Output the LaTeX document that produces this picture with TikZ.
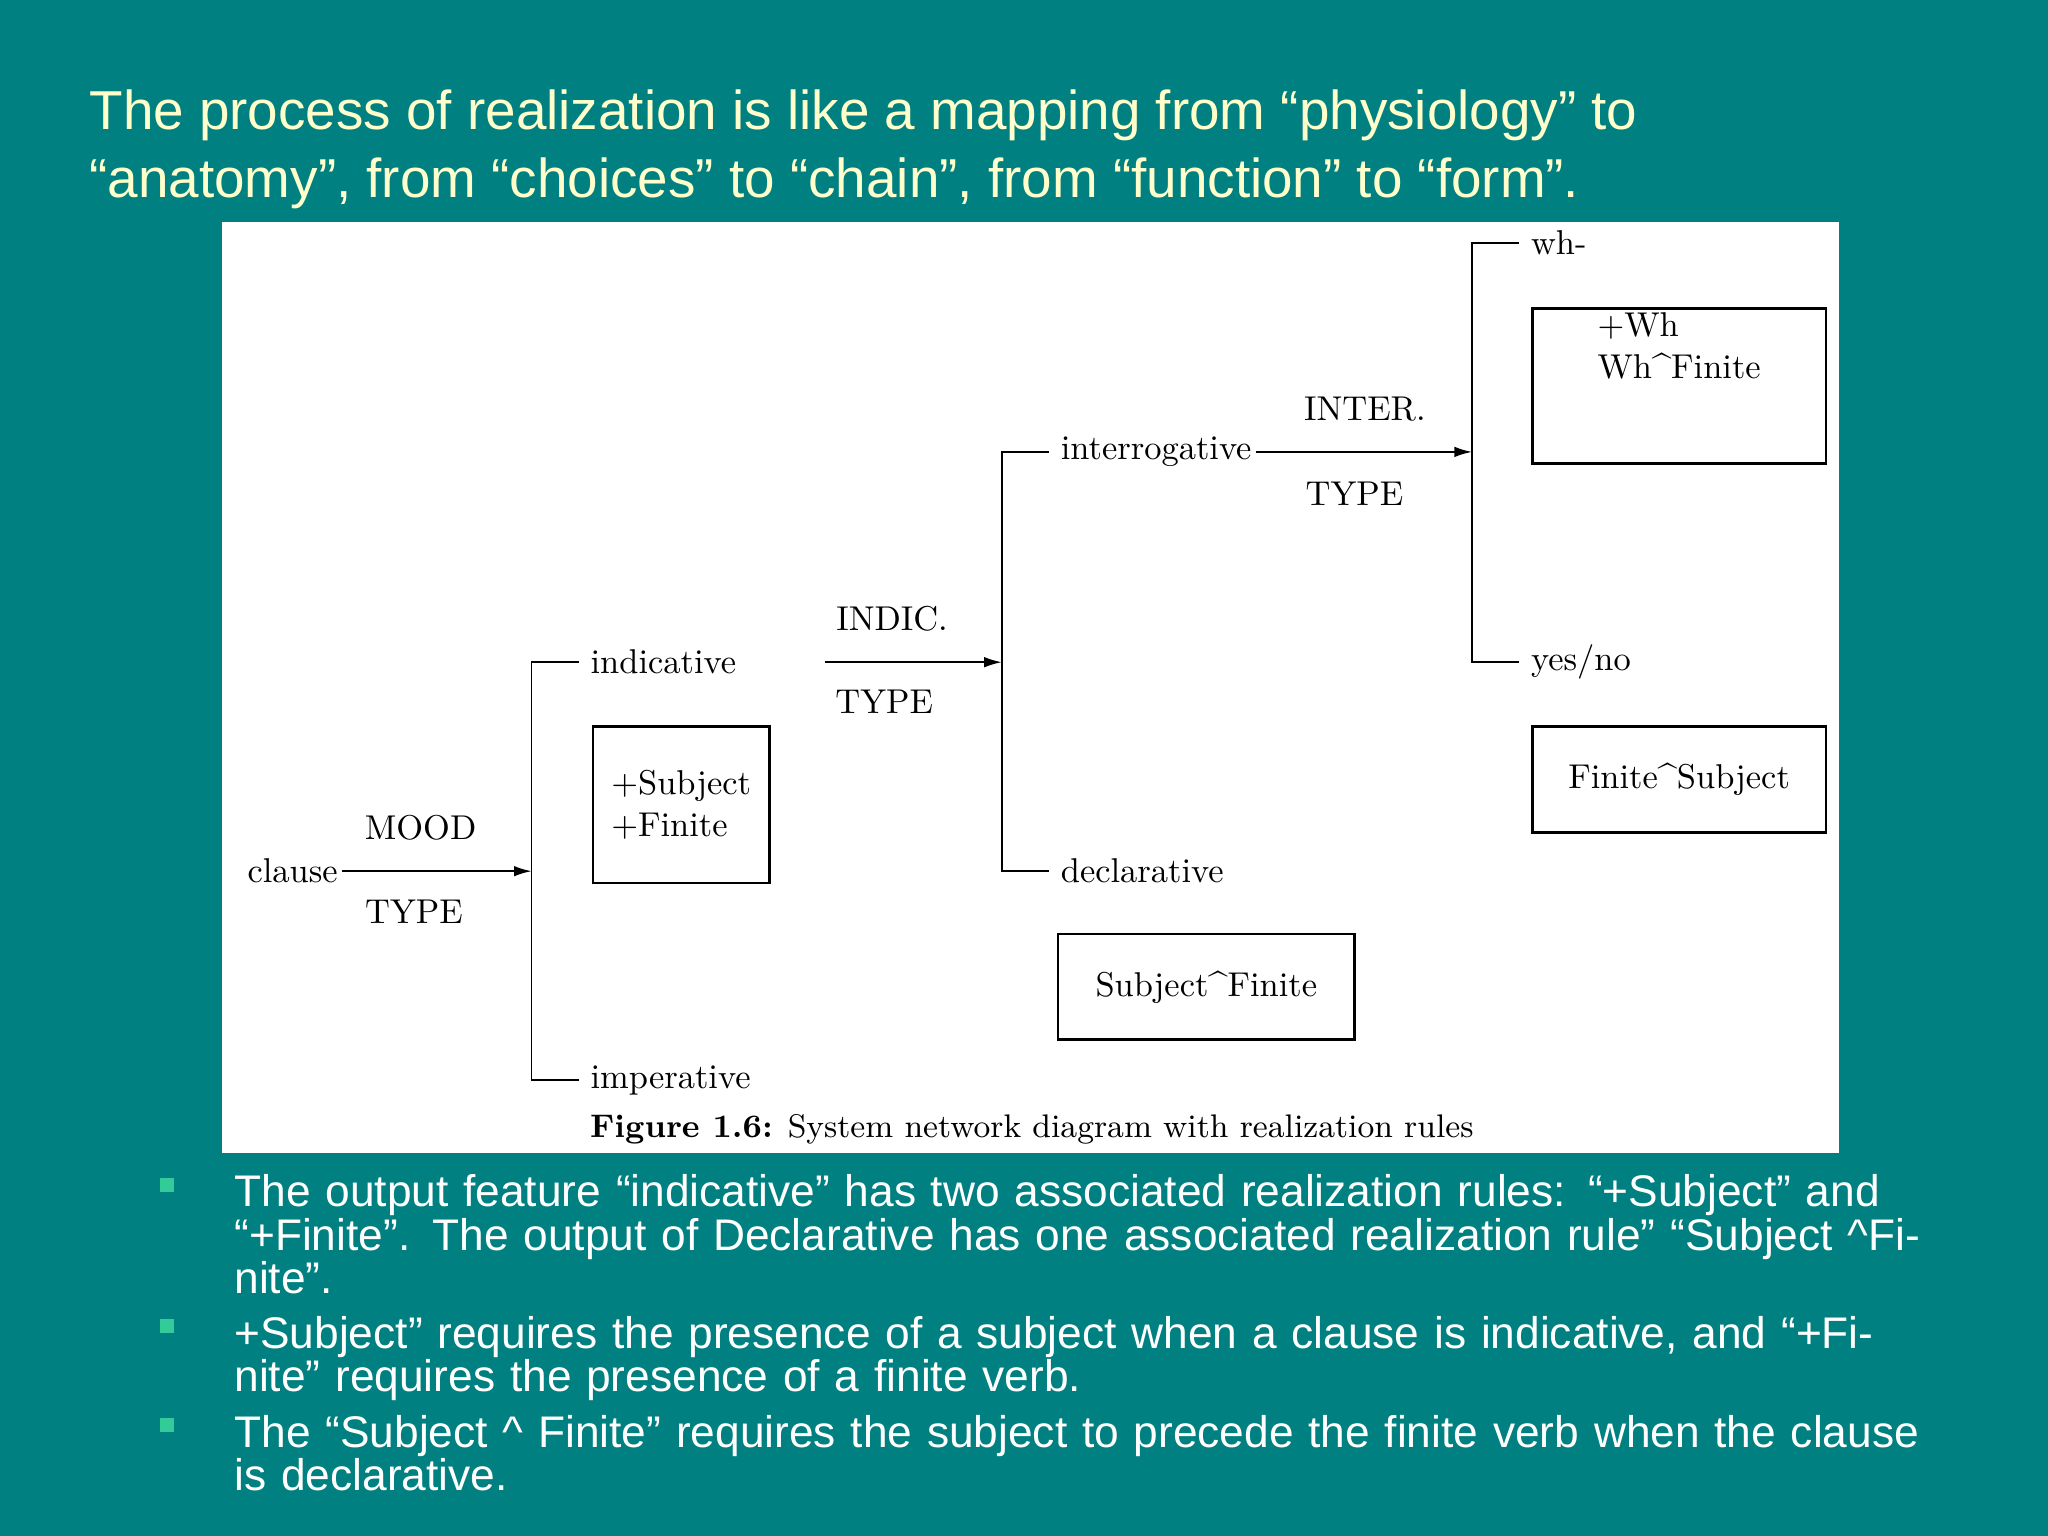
\documentclass[tikz,border=0pt]{standalone}
\usepackage{fontspec}
\newfontfamily\arial{Liberation Sans}
\usetikzlibrary{arrows.meta}
\definecolor{bg}{HTML}{008080}
\definecolor{ttl}{HTML}{FFFFCC}
\definecolor{bul}{HTML}{33CC99}
\tikzset{
 lbl/.style={font=\fontsize{9.8}{11}\selectfont, inner sep=1pt},
 ln/.style={line width=0.5pt},
 arr/.style={ln,-{Latex[length=5pt,width=3pt]}},
 rule/.style={draw,line width=0.8pt,align=left,anchor=north west,inner sep=1pt,font=\fontsize{9.8}{12}\selectfont},
 ttext/.style={font=\arial\fontsize{15.6}{19.3}\selectfont,text=ttl,anchor=west,inner sep=0pt},
 btext/.style={font=\arial\fontsize{12.6}{12.3}\selectfont,text=white,anchor=north west,align=left,inner sep=0pt,text width=16.9cm},
 sq/.style={fill=bul,minimum size=4pt,inner sep=0pt}
}
\begin{document}
\begin{tikzpicture}[x=0.01306cm,y=-0.01306cm]
\fill[bg] (0,0) rectangle (1568,1176);
\useasboundingbox (0,0) rectangle (1568,1176);
\node[ttext] (t1) at (68,88) {The process of realization is like a mapping from “physiology” to};
\node[ttext] (t2) at (68,140) {“anatomy”, from “choices” to “chain”, from “function” to “form”.};
\fill[white] (170,170) rectangle (1408,883);
% clause
\node[lbl] (clause) at (224,667) {clause};
\coordinate (b1) at (407,667);
\draw[arr] (clause.east) -- (b1);
\node[lbl] (mood) at (322,634) {MOOD};
\node[lbl] (mt) at (317,698) {TYPE};
\coordinate (b1t) at (407,507); \coordinate (b1b) at (407,827);
\draw[ln] (443,507) -- (b1t) -- (b1b) -- (443,827);
\node[lbl,anchor=west] (ind) at (449,507) {indicative};
\node[lbl,anchor=west] (imp) at (449,827) {imperative};
\node[rule,minimum width=135*0.01306cm,minimum height=120*0.01306cm] (r1) at (453,555) {+Subject\\+Finite};
\coordinate (b2) at (767,507);
\draw[arr] (632,507) -- (b2);
\node[lbl] (indic) at (683,474) {INDIC.};
\node[lbl] (it) at (677,537) {TYPE};
\draw[ln] (803,346) -- (767,346) -- (767,667) -- (803,667);
\node[lbl,anchor=west] (inter) at (809,346) {interrogative};
\node[lbl,anchor=west] (decl) at (809,667) {declarative};
\coordinate (b3) at (1127,346);
\draw[arr] (inter.east) -- (b3);
\node[lbl] (intr) at (1045,313) {INTER.};
\node[lbl] (itt) at (1037,378) {TYPE};
\node[rule,minimum width=227*0.01306cm,minimum height=81*0.01306cm] (r2) at (809,714) {Subject\^{}Finite};
\draw[ln] (1163,186) -- (1127,186) -- (1127,507) -- (1163,507);
\node[lbl,anchor=west] (wh) at (1169,186) {wh-};
\node[lbl,anchor=west] (yn) at (1169,507) {yes/no};
\node[rule,minimum width=225*0.01306cm,minimum height=119*0.01306cm,text depth=62*0.01306cm] (r3) at (1172,235) {+Wh\\Wh\^{}Finite};
\node[rule,minimum width=225*0.01306cm,minimum height=81*0.01306cm] (r4) at (1172,555) {Finite\^{}Subject};
\node[font=\fontsize{9.3}{11}\selectfont] (cap) at (790,865) {\textbf{Figure 1.6:} System network diagram with realization rules};
% bullets
\node[sq] (s1) at (128,907) {};
\node[btext] (p1) at (179,899) {The output feature “indicative” has two associated realization rules: “+Subject” and “+Finite”. The output of Declarative has one associated realization rule” “Subject \^{}Finite”.};
\node[sq] (s2) at (128,1015) {};
\node[btext] (p2) at (179,1007) {+Subject” requires the presence of a subject when a clause is indicative, and “+Finite” requires the presence of a finite verb.};
\node[sq] (s3) at (128,1091) {};
\node[btext] (p3) at (179,1083) {The “Subject \^{} Finite” requires the subject to precede the finite verb when the clause is declarative.};
\end{tikzpicture}
\end{document}
